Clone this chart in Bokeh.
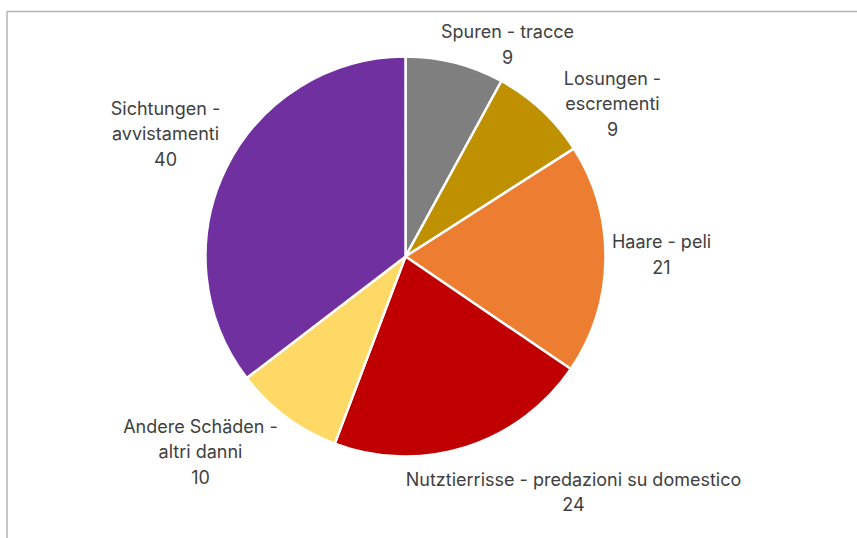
import math
from bokeh.plotting import figure
from bokeh.models import Range1d
from bokeh.core.properties import value
from bokeh.embed import file_html
from bokeh.resources import INLINE

# ---- data ----
categories = ["Spuren - tracce", "Losungen - escrementi", "Haare - peli",
              "Nutztierrisse - predazioni su domestico", "Andere Schäden - altri danni",
              "Sichtungen - avvistamenti"]
counts = [9, 9, 21, 24, 10, 40]
label_lines = [["Spuren - tracce"], ["Losungen -", "escrementi"], ["Haare - peli"],
               ["Nutztierrisse - predazioni su domestico"], ["Andere Schäden -", "altri danni"],
               ["Sichtungen -", "avvistamenti"]]
colors = ["#7F7F7F", "#BF9000", "#ED7D31", "#C00000", "#FFD966", "#7030A0"]

# ---- layout (page pixels) ----
W, H = 857, 538
def px(x): return x
def py(y): return H - y

cx, cy, R = 405, 256, 200
label_centers = [(507, 43.5), (612, 103), (661, 253.5), (573, 491), (200, 451), (165, 133)]
LH = 25

p = figure(width=W, height=H, output_backend="svg", toolbar_location=None,
           x_range=Range1d(0, W), y_range=Range1d(0, H), min_border=0)
p.axis.visible = False
p.grid.visible = False
p.outline_line_color = None
p.background_fill_color = "white"

# frame border (top and left)
p.line([px(6.5), px(6.5), W + 5], [-5, py(11), py(11)], line_color="#B4B4B4", line_width=1.5)

total = sum(counts)
start = math.pi / 2
starts, ends = [], []
for c in counts:
    a = 2 * math.pi * c / total
    starts.append(start - a)
    ends.append(start)
    start -= a

p.wedge(x=[px(cx)] * len(counts), y=[py(cy)] * len(counts), radius=R,
        start_angle=starts, end_angle=ends, fill_color=colors,
        line_color="white", line_width=2.5)

tx, ty, tt = [], [], []
for lines, c, (lx, ly) in zip(label_lines, counts, label_centers):
    allc = lines + [str(c)]
    n = len(allc)
    for i, t in enumerate(allc):
        tx.append(px(lx))
        ty.append(py(ly - (n - 1) * LH / 2 + i * LH))
        tt.append(t)

p.text(x=tx, y=ty, text=tt, text_font=value("Inter"), text_font_size="18px",
       text_color="#404040", text_align="center", text_baseline="middle")

open("out.html", "w").write(file_html(p, INLINE))
